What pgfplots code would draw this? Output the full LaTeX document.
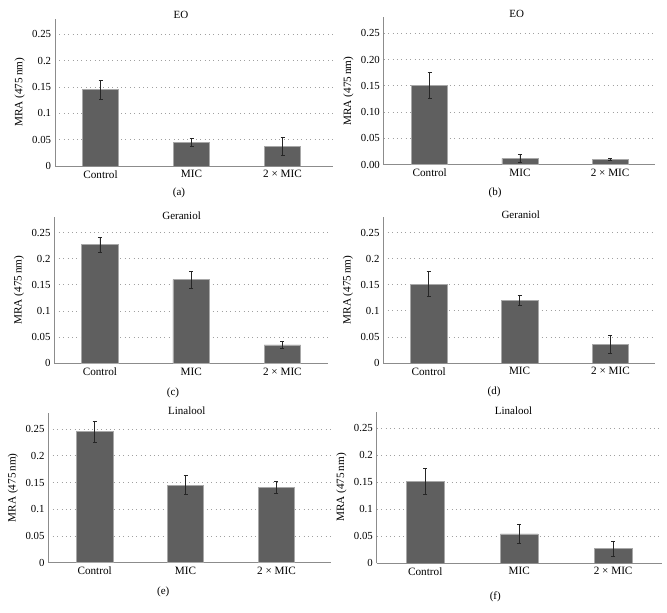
\documentclass[border=0pt]{standalone}
\usepackage{fontspec}
\setmainfont{Liberation Serif}
\usepackage{pgfplots}
\pgfplotsset{compat=1.18}
\definecolor{barfill}{HTML}{5F5F5F}
\definecolor{baredge}{HTML}{A8A8A8}
\definecolor{axisgray}{HTML}{8C8C8C}
\definecolor{gridgray}{HTML}{A0A0A0}
\pgfplotsset{
  panel/.style={
    scale only axis,
    anchor=south west,
    ybar, bar width=0.40,
    ymin=0, ymax=0.28,
    xtick={0,1,2},
    xticklabels={Control,MIC,2 × MIC},
    ytick={0,0.05,0.1,0.15,0.2,0.25},
    axis y line=left, axis x line=bottom,
    axis line style={draw=axisgray, line width=0.9pt, -},
    ymajorgrids, xmajorgrids=false,
    grid style={gridgray, line width=0.8pt, dash pattern=on 0.8pt off 3.6pt},
    major tick length=0pt,
    tick style={draw=none},
    ylabel={MRA (475\,nm)},
    ylabel near ticks,
    ylabel style={font=\fontsize{11.2}{13}\selectfont},
    /pgf/number format/assume math mode=true,
    yticklabel style={font=\fontsize{10.8}{12}\selectfont,
      /pgf/number format/fixed, /pgf/number format/precision=2},
    xticklabel style={font=\fontsize{11.2}{13}\selectfont, yshift=-0.5pt},
    title style={font=\fontsize{11}{13}\selectfont, anchor=center},
  },
  bars/.style={fill=barfill, draw=baredge, line width=0.5pt,
    error bars/.cd, y dir=both, y explicit,
    error bar style={black!85, line width=0.7pt},
    error mark options={black!85, rotate=90, mark size=2pt, line width=0.7pt}},
}
\begin{document}
\fontsize{11}{13}\selectfont
\begin{tikzpicture}[x=1pt,y=1pt]
\useasboundingbox (0,0) rectangle (667,613);
% (a)
\begin{axis}[panel, at={(55pt,447pt)}, width=277.6pt, height=147.4pt,
  xmin=-0.5, xmax=2.55, title={EO},
  title style={at={(rel axis cs:0.454,1)}, yshift=-2.6pt}]
\addplot[bars] coordinates {(0,0.145) +- (0,0.018) (1,0.045) +- (0,0.008) (2,0.037) +- (0,0.017)};
\end{axis}
% (b)
\begin{axis}[panel, at={(383.7pt,448.3pt)}, width=271.5pt, height=147.2pt,
  xmin=-0.51, xmax=2.5, title={EO},
  yticklabel style={/pgf/number format/fixed zerofill, /pgf/number format/precision=2},
  title style={at={(rel axis cs:0.49,1)}, yshift=-2.6pt}]
\addplot[bars] coordinates {(0,0.151) +- (0,0.024) (1,0.012) +- (0,0.008) (2,0.010) +- (0,0.002)};
\end{axis}
% (c)
\begin{axis}[panel, at={(54.3pt,249.7pt)}, width=273.7pt, height=146.4pt,
  xmin=-0.5, xmax=2.5, title={Geraniol},
  title style={at={(rel axis cs:0.465,1)}, yshift=-4.6pt}]
\addplot[bars] coordinates {(0,0.227) +- (0,0.014) (1,0.160) +- (0,0.016) (2,0.035) +- (0,0.007)};
\end{axis}
% (d)
\begin{axis}[panel, at={(383.3pt,250pt)}, width=271.7pt, height=145.9pt,
  xmin=-0.5, xmax=2.49, title={Geraniol},
  title style={at={(rel axis cs:0.506,1)}, yshift=-4pt}]
\addplot[bars] coordinates {(0,0.151) +- (0,0.024) (1,0.120) +- (0,0.009) (2,0.036) +- (0,0.017)};
\end{axis}
% (e)
\begin{axis}[panel, at={(48.3pt,50.3pt)}, width=282.7pt, height=149.7pt,
  xmin=-0.51, xmax=2.6, title={Linalool},
  title style={at={(rel axis cs:0.49,1)}, yshift=-3.5pt}]
\addplot[bars] coordinates {(0,0.245) +- (0,0.020) (1,0.145) +- (0,0.018) (2,0.141) +- (0,0.011)};
\end{axis}
% (f)
\begin{axis}[panel, at={(376.7pt,50pt)}, width=285pt, height=150.9pt,
  xmin=-0.517, xmax=2.517, title={Linalool},
  title style={at={(rel axis cs:0.48,1)}, yshift=-4.5pt}]
\addplot[bars] coordinates {(0,0.151) +- (0,0.024) (1,0.054) +- (0,0.018) (2,0.027) +- (0,0.014)};
\end{axis}
% sub-captions
\node at (179,420) {(a)};
\node at (495,420.3) {(b)};
\node at (173,220.3) {(c)};
\node at (494,220.7) {(d)};
\node at (163.3,20.7) {(e)};
\node at (495.3,16.3) {(f)};
\end{tikzpicture}
\end{document}
